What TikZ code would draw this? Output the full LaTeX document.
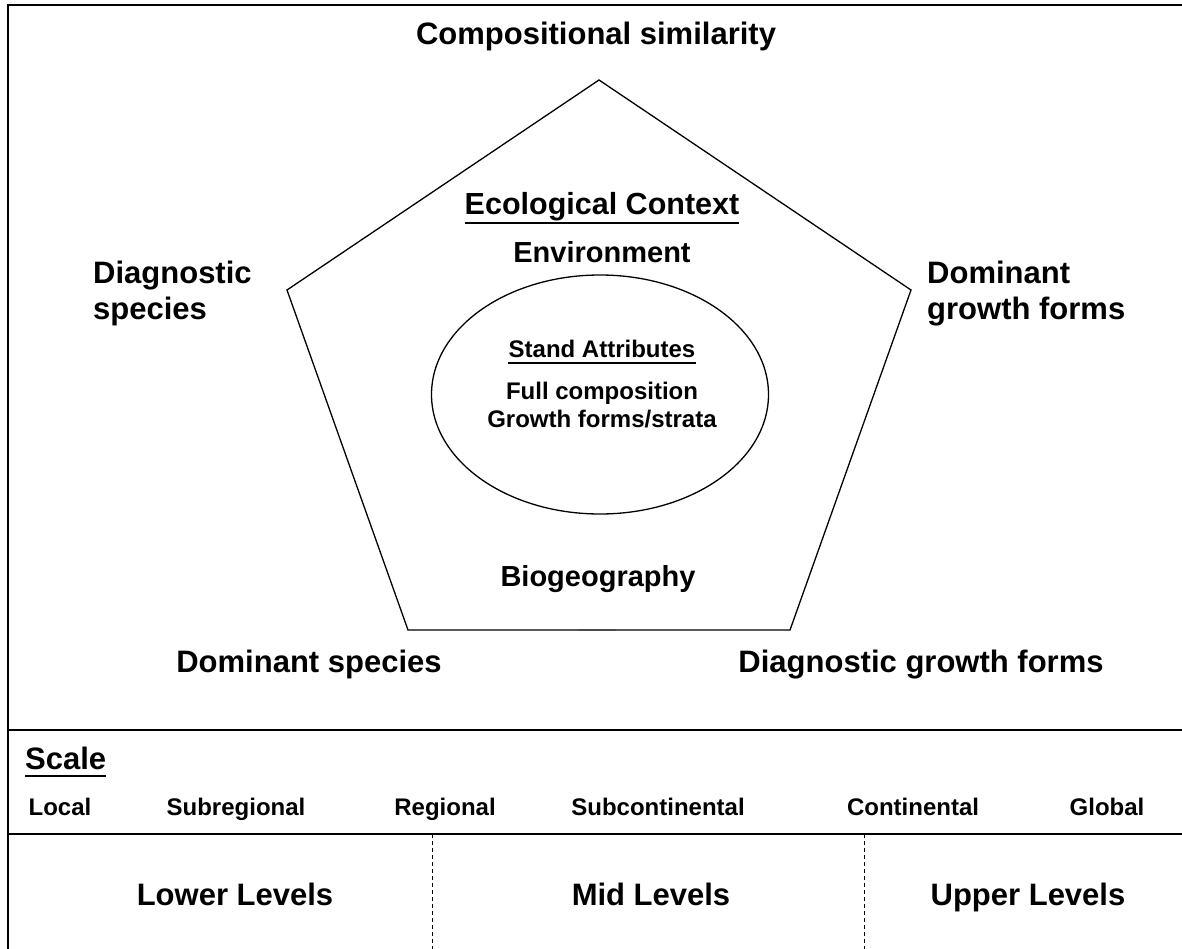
\documentclass[tikz,border=0pt]{standalone}
\usepackage{fontspec}
\setmainfont{Liberation Sans}
\usetikzlibrary{shapes.geometric,calc}
\begin{document}
\begin{tikzpicture}[x=1pt,y=-1pt,
  big/.style={inner sep=0pt,font=\bfseries\fontsize{31}{36}\selectfont},
  mid/.style={inner sep=0pt,font=\bfseries\fontsize{29}{34}\selectfont},
  small/.style={inner sep=0pt,font=\bfseries\fontsize{24}{28}\selectfont},
  frameline/.style={line width=1.6pt},
  shapeline/.style={line width=1.3pt},
  ulline/.style={line width=2.6pt},
  divider/.style={line width=0.9pt,dash pattern=on 4pt off 3pt}]
\useasboundingbox (0,0) rectangle (1182,949);
% frame
\draw[frameline] (1182,5) -- (8,5) -- (8,949);
\draw[frameline] (8,730) -- (1182,730);
\draw[frameline] (8,834) -- (1182,834);
\draw[divider] (432,834) -- (432,949);
\draw[divider] (864,834) -- (864,949);
% pentagon
\coordinate (pt) at (599,80);
\coordinate (pr) at (911,290);
\coordinate (pbr) at (790,630);
\coordinate (pbl) at (408,630);
\coordinate (pl) at (287,290);
\draw[shapeline,line join=miter] (pt) -- (pr) -- (pbr) -- (pbl) -- (pl) -- cycle;
\draw[line width=2.6pt,black!70] (578,630) -- (616,630);
% ellipse
\node[ellipse,draw,shapeline,minimum width=337pt,minimum height=239pt,inner sep=0pt] (stand) at (600,394.5) {};
% corner labels
\node[big,anchor=base] (comp) at (596,45) {Compositional similarity};
\node[big,anchor=north west,align=left] (diagsp) at (93,261) {Diagnostic\\species};
\node[big,anchor=north west,align=left] (domgf) at (927,261) {Dominant\\growth forms};
\node[big,anchor=base] (domsp) at (309,672) {Dominant species};
\node[big,anchor=base] (diaggf) at (921,672) {Diagnostic growth forms};
% context
\node[inner sep=0pt,font=\bfseries\fontsize{30.5}{35}\selectfont,anchor=base] (eco) at (602,215) {Ecological Context};
\draw[ulline] ($(eco.base west)+(0,8)$) -- ($(eco.base east)+(0,8)$);
\node[mid,anchor=base] (env) at (602,263) {Environment};
\node[mid,anchor=base] (bio) at (598,586) {Biogeography};
% stand attributes
\node[small,anchor=base] (sa) at (602,357) {Stand Attributes};
\draw[line width=2pt] ($(sa.base west)+(0,5.5)$) -- ($(sa.base east)+(0,5.5)$);
\node[small,anchor=base] (fc) at (602,399) {Full composition};
\node[small,anchor=base] (gfs) at (602,427) {Growth forms/strata};
% scale
\node[big,anchor=base west] (scale) at (25,769) {Scale};
\draw[ulline] ($(scale.base west)+(0,7)$) -- ($(scale.base east)+(0,7)$);
\node[small,anchor=base] (local) at (60,815) {Local};
\node[small,anchor=base] (subreg) at (236,815) {Subregional};
\node[small,anchor=base] (reg) at (445,815) {Regional};
\node[small,anchor=base] (subcont) at (658,815) {Subcontinental};
\node[small,anchor=base] (cont) at (913,815) {Continental};
\node[small,anchor=base] (glob) at (1107,815) {Global};
% levels
\node[big,anchor=base] (lower) at (235,905) {Lower Levels};
\node[big,anchor=base] (midl) at (651,905) {Mid Levels};
\node[big,anchor=base] (upper) at (1028,905) {Upper Levels};
\end{tikzpicture}
\end{document}
